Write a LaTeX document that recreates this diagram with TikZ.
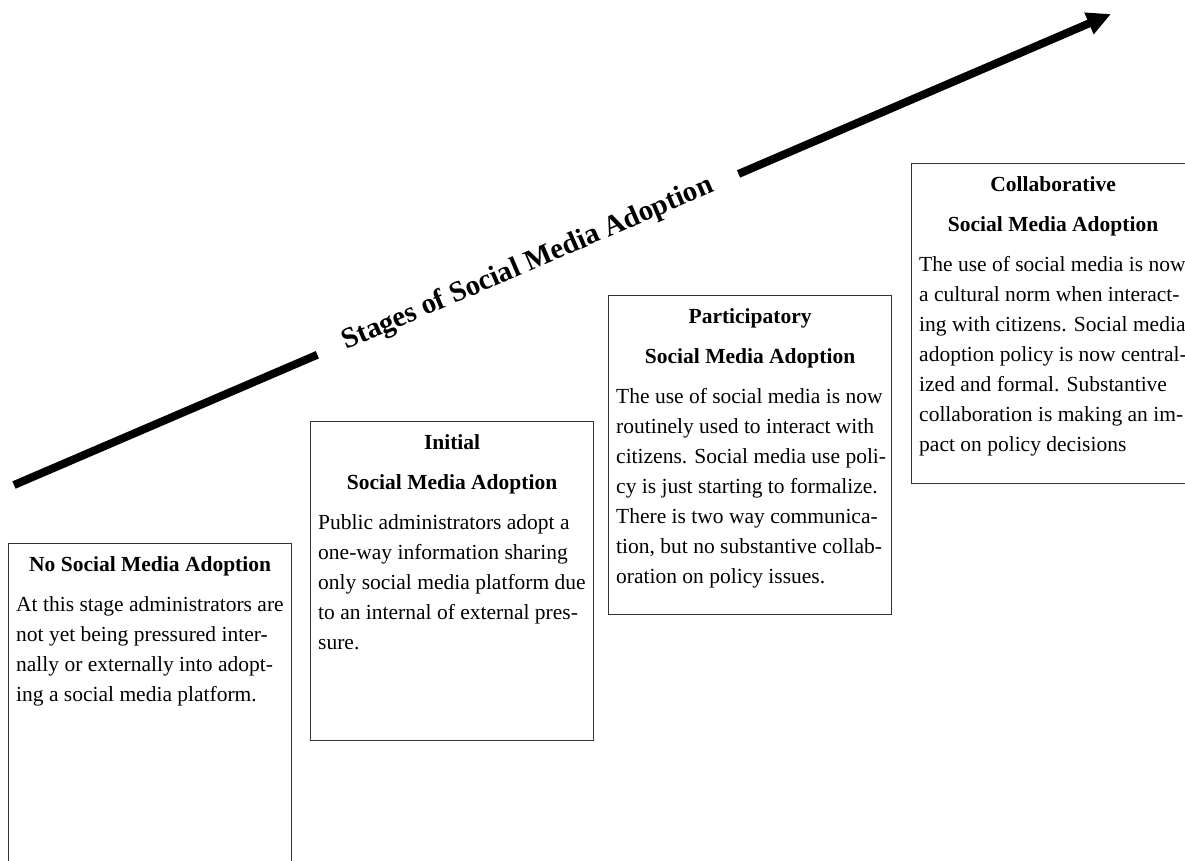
\documentclass[tikz,border=0pt]{standalone}
\usepackage{fontspec}
\setmainfont{Liberation Serif}
\usetikzlibrary{arrows.meta,calc}
\begin{document}
\begin{tikzpicture}[x=1pt,y=-1pt,
  stagebox/.style={draw=black!80, line width=1.2pt, minimum width=283pt,
                   anchor=north west, inner sep=0pt},
  ttl/.style={font=\fontsize{21.5}{24}\selectfont\bfseries, anchor=base, inner sep=0pt},
  txt/.style={font=\fontsize{21.5}{24}\selectfont, anchor=base west, inner sep=0pt},
  trend/.style={line width=8pt},
  trendlabel/.style={font=\fontsize{29}{32}\selectfont\bfseries, inner sep=0pt,
                     minimum width=458pt, minimum height=30pt}
]
\useasboundingbox (0,0) rectangle (1185,860);

% the rising trend arrow, interrupted by its label
\coordinate (a0) at (14,485);
\coordinate (a1) at (1111,14);
\node[trendlabel, rotate=23.24] (lbl) at ($(a0)!0.4685!(a1)$) {Stages of Social Media Adoption};
\draw[trend] (a0) -- (lbl);
\draw[trend, -{Triangle[length=24pt,width=22pt]}] (lbl) -- (a1);

% the four stage boxes, stepping upwards
\node[stagebox, minimum height=330pt] (s0) at (8,543) {};
\node[stagebox, minimum height=319pt] (s1) at (310,421) {};
\node[stagebox, minimum height=319pt] (s2) at (608,295) {};
\node[stagebox, minimum height=320pt] (s3) at (911,163) {};

% stage 0
\node[ttl] (s0t) at ($(s0.north)+(0,28)$) {No Social Media Adoption};
\foreach \l [count=\i from 0] in {At this stage administrators are,
    not yet being pressured inter-,
    nally or externally into adopt-,
    ing a social media platform.}
  \node[txt] (s0l\i) at ($(s0.north west)+(8,68+30*\i)$) {\l};

% stage 1
\node[ttl] (s1t) at ($(s1.north)+(0,28)$) {Initial};
\node[ttl] (s1u) at ($(s1.north)+(0,68)$) {Social Media Adoption};
\foreach \l [count=\i from 0] in {Public administrators adopt a,
    one-way information sharing,
    only social media platform due,
    to an internal of external pres-,
    sure.}
  \node[txt] (s1l\i) at ($(s1.north west)+(8,108+30*\i)$) {\l};

% stage 2
\node[ttl] (s2t) at ($(s2.north)+(0,28)$) {Participatory};
\node[ttl] (s2u) at ($(s2.north)+(0,68)$) {Social Media Adoption};
\foreach \l [count=\i from 0] in {The use of social media is now,
    routinely used to interact with,
    citizens. Social media use poli-,
    cy is just starting to formalize.,
    There is two way communica-,
    {tion, but no substantive collab-},
    oration on policy issues.}
  \node[txt] (s2l\i) at ($(s2.north west)+(8,108+30*\i)$) {\l};

% stage 3
\node[ttl] (s3t) at ($(s3.north)+(0,28)$) {Collaborative};
\node[ttl] (s3u) at ($(s3.north)+(0,68)$) {Social Media Adoption};
\foreach \l [count=\i from 0] in {The use of social media is now,
    a cultural norm when interact-,
    ing with citizens. Social media,
    adoption policy is now central-,
    ized and formal. Substantive,
    collaboration is making an im-,
    pact on policy decisions}
  \node[txt] (s3l\i) at ($(s3.north west)+(8,108+30*\i)$) {\l};
\end{tikzpicture}
\end{document}
